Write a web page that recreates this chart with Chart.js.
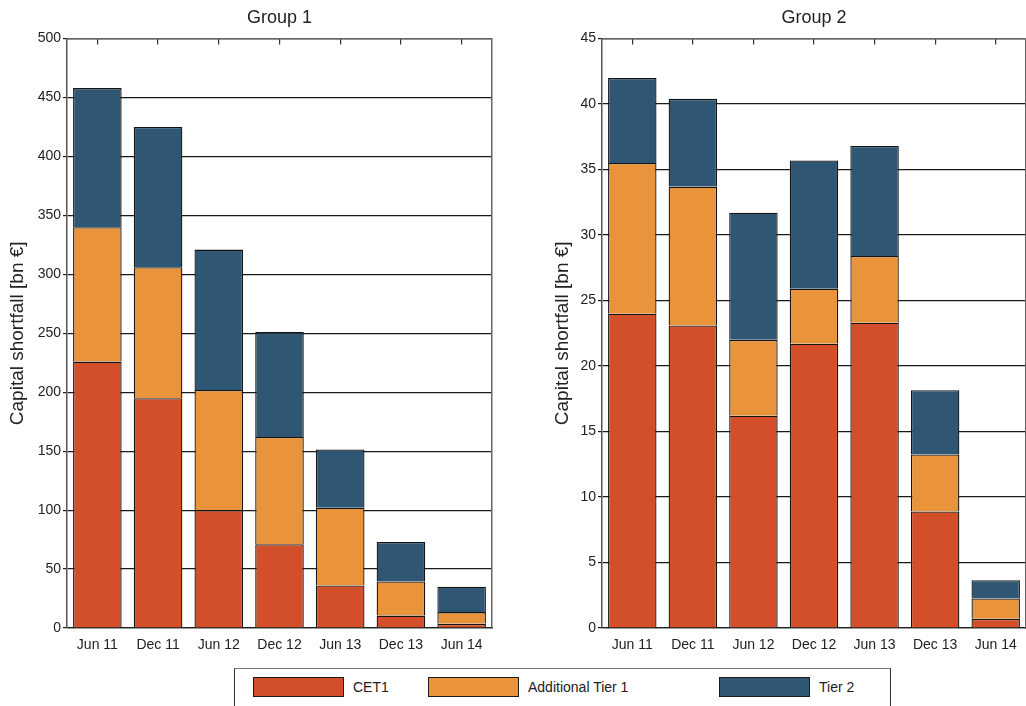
<!DOCTYPE html>
<html>
<head>
<meta charset="utf-8">
<script src="https://cdn.jsdelivr.net/npm/chart.js@4.4.1/dist/chart.umd.min.js"></script>
<style>
  html, body { margin: 0; padding: 0; background: #fff; }
  body { width: 1026px; height: 706px; position: relative; overflow: hidden;
         font-family: "Liberation Sans", Arial, sans-serif; }
  canvas { position: absolute; top: 0; }
  #c1 { left: 0; }
  #c2 { left: 545px; }
  #legend { position: absolute; left: 234px; top: 668px; width: 657px; height: 46px;
            border: 1px solid #333; border-top-color: #777; box-sizing: border-box; }
  .item { position: absolute; top: 8px; height: 20px; display: flex; align-items: center; }
  .swatch { width: 89px; height: 18px; border: 1px solid #1b1b1b; }
  .name { margin-left: 9px; font-size: 14px; color: #222; white-space: nowrap; }
</style>
</head>
<body>
<canvas id="c1" width="510" height="660"></canvas>
<canvas id="c2" width="482" height="660"></canvas>
<div id="legend"></div>
<script>
// Reporting dates shared by both panels
const categories = ['Jun 11', 'Dec 11', 'Jun 12', 'Dec 12', 'Jun 13', 'Dec 13', 'Jun 14'];

// Group 1 capital shortfall, bn €
const group1CET1  = [226, 195, 100, 71, 36, 10.5, 3.5];
const group1AT1   = [114, 111, 102, 91, 66, 29, 10];
const group1Tier2 = [118, 119, 119, 89, 49.5, 33.5, 21.5];

// Group 2 capital shortfall, bn €
const group2CET1  = [24, 23.1, 16.2, 21.7, 23.3, 8.9, 0.7];
const group2AT1   = [11.5, 10.6, 5.8, 4.2, 5.1, 4.35, 1.55];
const group2Tier2 = [6.5, 6.7, 9.7, 9.8, 8.4, 4.9, 1.4];

const seriesNames  = ['CET1', 'Additional Tier 1', 'Tier 2'];
const seriesColors = ['#D24F2A', '#E9943B', '#2F5673'];

const panelTitles = ['Group 1', 'Group 2'];
const axisTitle = 'Capital shortfall [bn €]';

const FONT = '"Liberation Sans", Arial, sans-serif';
const INK = '#222';

function buildPanel(canvasId, title, series, yMax, yStep, leftWidth, rightWidth) {
  return new Chart(document.getElementById(canvasId), {
    type: 'bar',
    data: {
      labels: categories,
      datasets: series.map((values, i) => ({
        label: seriesNames[i],
        data: values,
        backgroundColor: seriesColors[i],
        borderColor: '#141414',
        borderWidth: 1.3,
        borderSkipped: 'start',
        barPercentage: 0.8,
        categoryPercentage: 1.0
      }))
    },
    options: {
      responsive: false,
      animation: false,
      devicePixelRatio: 1,
      layout: { padding: 0 },
      plugins: {
        legend: { display: false },
        tooltip: { enabled: false },
        title: {
          display: true,
          text: title,
          fullSize: false,
          color: INK,
          font: { family: FONT, size: 18, weight: 'normal' },
          padding: { top: 7, bottom: 10 }
        }
      },
      scales: {
        x: {
          stacked: true,
          grid: { display: false },
          border: { display: true, color: '#222', width: 1.2 },
          ticks: { color: INK, font: { family: FONT, size: 14 }, padding: 1,
                   maxRotation: 0, autoSkip: false },
          afterFit: s => { s.height = 32; }
        },
        xTop: {
          type: 'category',
          position: 'top',
          labels: categories,
          offset: true,
          grid: { drawOnChartArea: false, offset: false, tickLength: -6,
                  color: '#333', lineWidth: 1.2 },
          border: { display: true, color: '#666', width: 1.5 },
          ticks: { display: false },
          afterFit: s => { s.height = 0; }
        },
        y: {
          stacked: true,
          min: 0,
          max: yMax,
          ticks: { stepSize: yStep, color: INK, font: { family: FONT, size: 14 }, padding: 2 },
          grid: { color: '#1a1a1a', lineWidth: 1.2, tickLength: 4 },
          border: { display: true, color: '#555', width: 1.5 },
          title: { display: true, text: axisTitle, color: INK,
                   font: { family: FONT, size: 19 }, padding: { top: 6, bottom: 0 } },
          afterFit: s => { s.width = leftWidth; }
        },
        yRight: {
          position: 'right',
          min: 0,
          max: yMax,
          ticks: { display: false },
          grid: { display: false },
          border: { display: true, color: '#666', width: 1.5 },
          afterFit: s => { s.width = rightWidth; }
        }
      }
    }
  });
}

buildPanel('c1', panelTitles[0], [group1CET1, group1AT1, group1Tier2], 500, 50, 67, 18);
buildPanel('c2', panelTitles[1], [group2CET1, group2AT1, group2Tier2], 45, 5, 57, 1);

// Shared legend below both panels
const legendOffsets = [18, 193, 484];
const legend = document.getElementById('legend');
seriesNames.forEach((name, i) => {
  const item = document.createElement('div');
  item.className = 'item';
  item.style.left = legendOffsets[i] + 'px';
  const sw = document.createElement('div');
  sw.className = 'swatch';
  sw.style.background = seriesColors[i];
  const label = document.createElement('span');
  label.className = 'name';
  label.textContent = name;
  item.appendChild(sw);
  item.appendChild(label);
  legend.appendChild(item);
});
</script>
</body>
</html>
